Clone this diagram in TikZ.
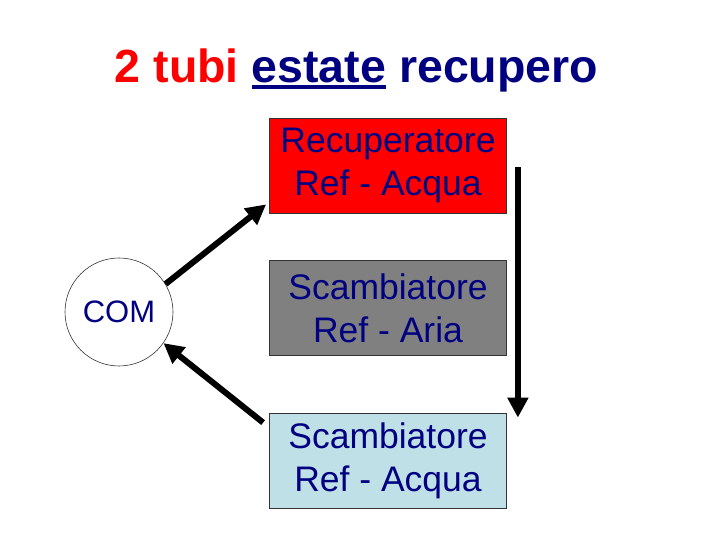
\documentclass[tikz,border=0pt]{standalone}
\usepackage{fontspec}
\setmainfont{Liberation Sans}
\usetikzlibrary{arrows.meta}
\definecolor{navy}{RGB}{0,0,128}
\definecolor{paleblue}{RGB}{190,224,230}
\newcommand\ulword[1]{\setbox0\hbox{#1}\rlap{\rule[-6pt]{\wd0}{3.5pt}}\box0\relax}
\tikzset{
  unit/.style={draw=black!80, line width=0.8pt, minimum width=237pt, minimum height=95pt,
    align=center, text=navy, font=\fontsize{35.5}{43}\selectfont},
  flow/.style={line width=6pt, -{Triangle[width=20pt,length=20pt]}}
}
\begin{document}
\begin{tikzpicture}[x=1pt,y=1pt]
\useasboundingbox (0,0) rectangle (720,540);
\node[anchor=base, font=\bfseries\fontsize{46.5}{56}\selectfont] (title) at (356.5,457)
  {\textcolor{red}{2 tubi} \textcolor{navy}{\ulword{estate} recupero}};
\node[unit, fill=red] (rec) at (388,374.5) {Recuperatore\\Ref - Acqua};
\node[unit, fill=black!50] (scaria) at (388,232) {Scambiatore\\Ref - Aria};
\node[unit, fill=paleblue] (scacqua) at (388,79.5) {Scambiatore\\Ref - Acqua};
\node[draw=black!80, line width=0.6pt, circle, minimum size=108pt, text=navy,
  font=\fontsize{31}{37}\selectfont] (com) at (119,228) {COM};
\draw[flow] (com.31) -- ([shift={(-3,9)}]rec.south west);
\draw[flow] ([shift={(-6,-10)}]scacqua.north west) -- (com.-35);
\draw[flow] ([shift={(11,-2)}]rec.east) -- ([shift={(11,-5)}]scacqua.north east);
\end{tikzpicture}
\end{document}
